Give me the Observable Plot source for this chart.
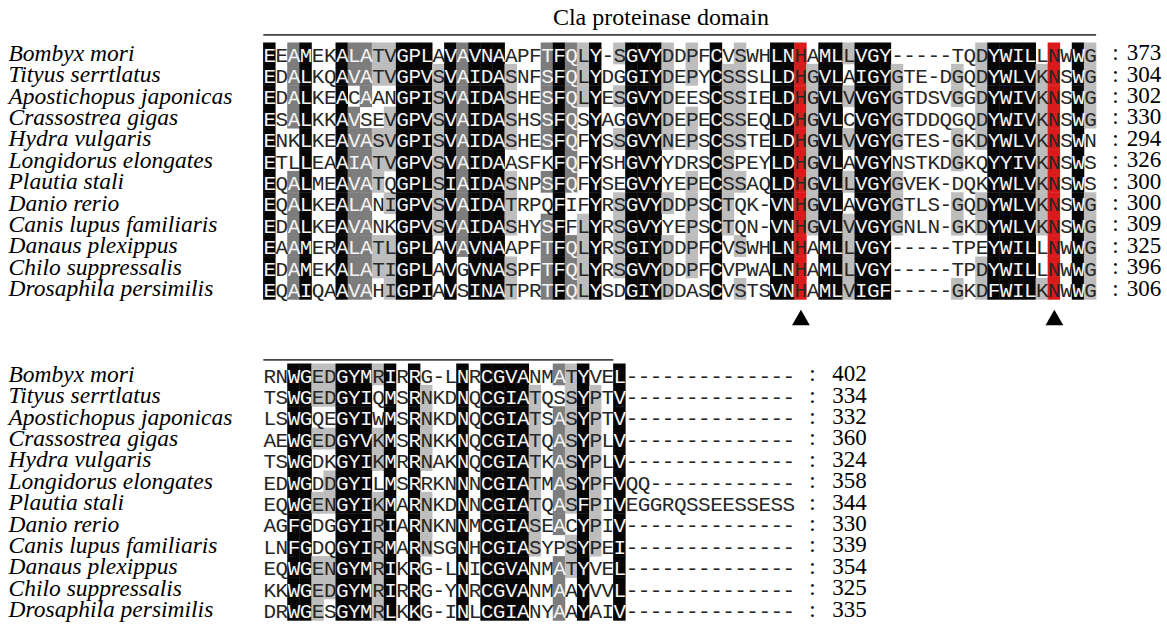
<!DOCTYPE html>
<html><head><meta charset="utf-8">
<script src="https://cdn.jsdelivr.net/npm/d3@7"></script>
<script src="https://cdn.jsdelivr.net/npm/@observablehq/plot@0.6"></script>
<style>html,body{margin:0;padding:0;background:#fff}#chart svg{display:block}</style>
</head><body><div id="chart"></div>
<script>
// ---------------- data ----------------
const species = ["Bombyx mori","Tityus serrtlatus","Apostichopus japonicas","Crassostrea gigas","Hydra vulgaris","Longidorus elongates","Plautia stali","Danio rerio","Canis lupus familiaris","Danaus plexippus","Chilo suppressalis","Drosaphila persimilis"];

const block1Seqs = [
"EEAMEKALATVGPLAVAVNAAPFTFQLY-SGVYDDPFCVSWHLNHAMLLVGY-----TQDYWILLNWWG",
"EDALKQAVATVGPVSVAIDASNFSFQLYDGGIYDEPYCSSSLLDHGVLAIGYGTE-DGQDYWLVKNSWG",
"EDALKEACAANGPISVAIDASHESFQLYESGVYDEESCSSIELDHGVLVVGYGTDSVGGDYWIVKNSWG",
"ESALKKAVSEVGPVSVAIDASHSSFQSYAGGVYDEPECSSEQLDHGVLCVGYGTDDQGQDYWIVKNSWG",
"ENKLKEAVASVGPISVAIDASHESFQFYSSGVYNEPSCSSTELDHGVLVVGYGTES-GKDYWLVKNSWN",
"ETLLEAAIATVGPVSVAIDAASFKFQFYSHGVYYDRSCSPEYLDHGVLAVGYNSTKDGKQYYIVKNSWS",
"EQALMEAVATQGPLSIAIDASNPSFQFYSEGVYYEPECSSAQLDHGVLLVGYGVEK-DQKYWLVKNSWS",
"EQALKEALANIGPVSVAIDATRPQFIFYRSGVYDDPSCTQK-VNHGVLAVGYGTLS-GQDYWLVKNSWG",
"EDALKEAVANKGPVSVAIDASHYSFFLYRSGVYYEPSCTQN-VNHGVLVVGYGNLN-GKDYWLVKNSWG",
"EAAMERALATLGPLAVAVNAAPFTFQLYRSGIYDDPFCVSWHLNHAMLLVGY-----TPEYWILLNWWG",
"EDAMEKALATIGPLAVGVNASPFTFQLYRSGVYDDPFCVPWALNHAMLLVGY-----TPDYWILLNWWG",
"EQAIQAAVAHIGPIAVSINATPRTFQLYSDGIYDDASCVSTSVNHAMLVIGF-----GKDFWILKNWWG"];
const block1Ends = [373,304,302,330,294,326,300,300,309,325,396,306];
// shading per alignment column, one letter per species (K black, D dark grey, L light grey, R red, . none)
const block1Shades = [
"KKKKKKKKKKKK","............","DDDD..DDDDDD","KKKKKKKKKKKK","............","............",
"KKKKKKKKKKKK","DD.DDDDDDDDD","DDD.DDDDDDDD","LL..LLL..LL.","LL.LLL.L.LLL","KKKKKKKKKKKK",
"KKKKKKKKKKKK","KKKKKKKKKKKK",".LLLLLLLL...","KKKKKKKKKKKK","DDDDDDDDDD..","KKKKKKKKKKKK",
"KKKKKKKKKKKK","KKKKKKKKKKKK",".LLLL.LLL.LL","............","............","DDDDD.D.DDDD",
"KKKKKKKKKKKK","DDDDDDD..DDD","LLL.....LLLL","KKKKKKKKKKKK","............","L.L.L..LLLL.",
"KKKKKKKKKKKK","KKKKKKKKKKKK","KKKKKKKKKKKK","LLLLL..L.LLL","............","LL.LL.LLLLL.",
"............","KKKKKKKKKKKK",".LLLLLLLL...","LLLLL.L..L.L","............","............",
"KKKKKKKKKKKK","KKKKKKKKKKKK","RRRRRRRRRRRR",".LLLLLLLL...","KKKKKKKKKKKK","KKKKKKKKKKKK",
"L.L.L.L.LLLL","KKKKKKKKKKKK","KKKKKKKKKKKK","KKKKKKKKKKKK",".LLLL.LLL...","............",
"............","............","............",".LL.LL.LL..L","............","LLLLL..LL.LL",
"KKKKKKKKKKKK","KKKKKKKKKKKK","KKKKKKKKKKKK","KKKKKKKKKKKK",".LLLLLLLL..L","RRRRRRRRRRRR",
"............","KKKKKKKKKKKK","LLLL...LLLLL"];

const block2Seqs = [
"RNWGEDGYMRIRRG-LNRCGVANMATYVEL--------------",
"TSWGEDGYIQMSRNKDNQCGIATQSSYPTV--------------",
"LSWGQEGYIWMSRNKDNQCGIATSASYPTV--------------",
"AEWGEDGYVKMSRNKKNQCGIATQASYPLV--------------",
"TSWGDKGYIKMRRNAKNQCGIATKASYPLV--------------",
"EDWGDDGYILMSRRKNNNCGIATMASYPFVQQ------------",
"EQWGENGYIKMARNKDNNCGIATQASFPIVEGGRQSSEESSESS",
"AGFGDGGYIRIARNKNNMCGIASEACYPIV--------------",
"LNFGDQGYIRMARNSGNHCGIASYPSYPEI--------------",
"EQWGENGYMRIKRG-LNICGVANMATYVEL--------------",
"KKWGEDGYMRIRRG-YNRCGVANMAAYVVL--------------",
"DRWGESGYMRLKKG-INLCGIANYAAYAIV--------------"];
const block2Ends = [402,334,332,360,324,358,344,330,339,354,325,335];
const block2Shades = [
"............","............","KKKKKKKKKKKK","KKKKKKKKKKKK","LL.L..L..LLL","LL.L.LL..LL.",
"KKKKKKKKKKKK","KKKKKKKKKKKK","KKKKKKKKKKKK","L..LL.LLLLLL","KKKKKKKKKKKK","............",
"KKKKKKKKKKKK",".LLLL.LLL...","............","............","KKKKKKKKKKKK","............",
"KKKKKKKKKKKK","KKKKKKKKKKKK","KKKKKKKKKKKK","KKKKKKKKKKKK",".LLLLLLLL...","............",
"D.DDDDDD.DDD","LLLLLLL.LL..","KKKKKKKKKKKK",".LLLLLLLL...","............","KKKKKKKKKKKK"];

const domainLabel = "Cla proteinase domain";
const domainSpans = [{block: 1, from: 1, to: 69}, {block: 2, from: 1, to: 29}];
const activeSiteColumns = [45, 66];

// ---------------- layout ----------------
const W = 1167, H = 626;
const colPx = 12.07, rowPx = 21.4, leftPx = 263.3, topPx = 42.7;
const rowOffset = {1: 0, 2: 15};
const colonX = {1: 70.55, 2: 45.45}, numX = {1: 71.5, 2: 47.1};

function buildCells(seqs, shades, block) {
  const out = [];
  seqs.forEach((s, r) => {
    [...s].forEach((ch, c) => {
      const col = shades[c];
      out.push({block, row: r + rowOffset[block], col: c + 1, ch, shade: col ? col[r] : "."});
    });
  });
  return out;
}
const cells = buildCells(block1Seqs, block1Shades, 1).concat(buildCells(block2Seqs, block2Shades, 2));
const rowsInfo = [];
for (const block of [1, 2]) {
  const ends = block === 1 ? block1Ends : block2Ends;
  species.forEach((name, r) => rowsInfo.push({block, row: r + rowOffset[block], name, end: ends[r]}));
}

const serif = "'Liberation Serif','Times New Roman',Times,serif";
const mono = "'Liberation Mono','Courier New',monospace";

const chart = Plot.plot({
  width: W, height: H, margin: 0,
  style: {background: "#fff", overflow: "visible"},
  x: {domain: [-leftPx / colPx, (W - leftPx) / colPx], range: [0, W], axis: null},
  y: {domain: [-topPx / rowPx, (H - topPx) / rowPx], range: [0, H], axis: null},
  color: {type: "ordinal", domain: ["K", "D", "L", "R"], range: ["#060606", "#7d7d7d", "#bdbdbd", "#d91b1b"]},
  marks: [
    Plot.rect(cells.filter(d => d.shade !== "."), {
      x1: d => d.col - 1, x2: d => d.col, y1: d => d.row, y2: d => d.row + 1,
      fill: "shade", insetLeft: -0.2, insetRight: -0.2, insetTop: -0.2, insetBottom: -0.2
    }),
    Plot.text(cells.filter(d => d.shade === "K" || d.shade === "D"), {
      x: d => d.col - 0.5, y: d => d.row + 0.5, text: "ch", fill: "#f4f4f4",
      fontFamily: mono, fontSize: 21, dy: 1
    }),
    Plot.text(cells.filter(d => !(d.shade === "K" || d.shade === "D")), {
      x: d => d.col - 0.5, y: d => d.row + 0.5, text: "ch", fill: "#262626",
      fontFamily: mono, fontSize: 21, dy: 1
    }),
    Plot.text(rowsInfo, {
      x: -21.15, y: d => d.row + 0.47, text: "name", textAnchor: "start",
      fontFamily: serif, fontStyle: "italic", fontSize: 23.5, fill: "#000"
    }),
    Plot.text(rowsInfo, {
      x: d => colonX[d.block], y: d => d.row + 0.45, text: () => ":",
      fontFamily: serif, fontSize: 23, fill: "#000"
    }),
    Plot.text(rowsInfo, {
      x: d => numX[d.block], y: d => d.row + 0.45, text: d => String(d.end), textAnchor: "start",
      fontFamily: serif, fontSize: 23, fill: "#000"
    }),
    Plot.ruleY(domainSpans, {
      y: d => d.block === 1 ? -0.39 : rowOffset[2] - 0.2,
      x1: d => d.from - 1, x2: d => d.to, stroke: "#444", strokeWidth: 1.6
    }),
    Plot.text([domainLabel], {
      x: 32.9, y: -1.2, text: d => d, fontFamily: serif, fontSize: 24, fill: "#000"
    }),
    Plot.dot(activeSiteColumns, {
      x: c => c - 0.5, y: 12.94, symbol: "triangle", r: 6.6, fill: "#000", stroke: "none"
    })
  ]
});
document.getElementById("chart").appendChild(chart);
</script>
</body></html>
